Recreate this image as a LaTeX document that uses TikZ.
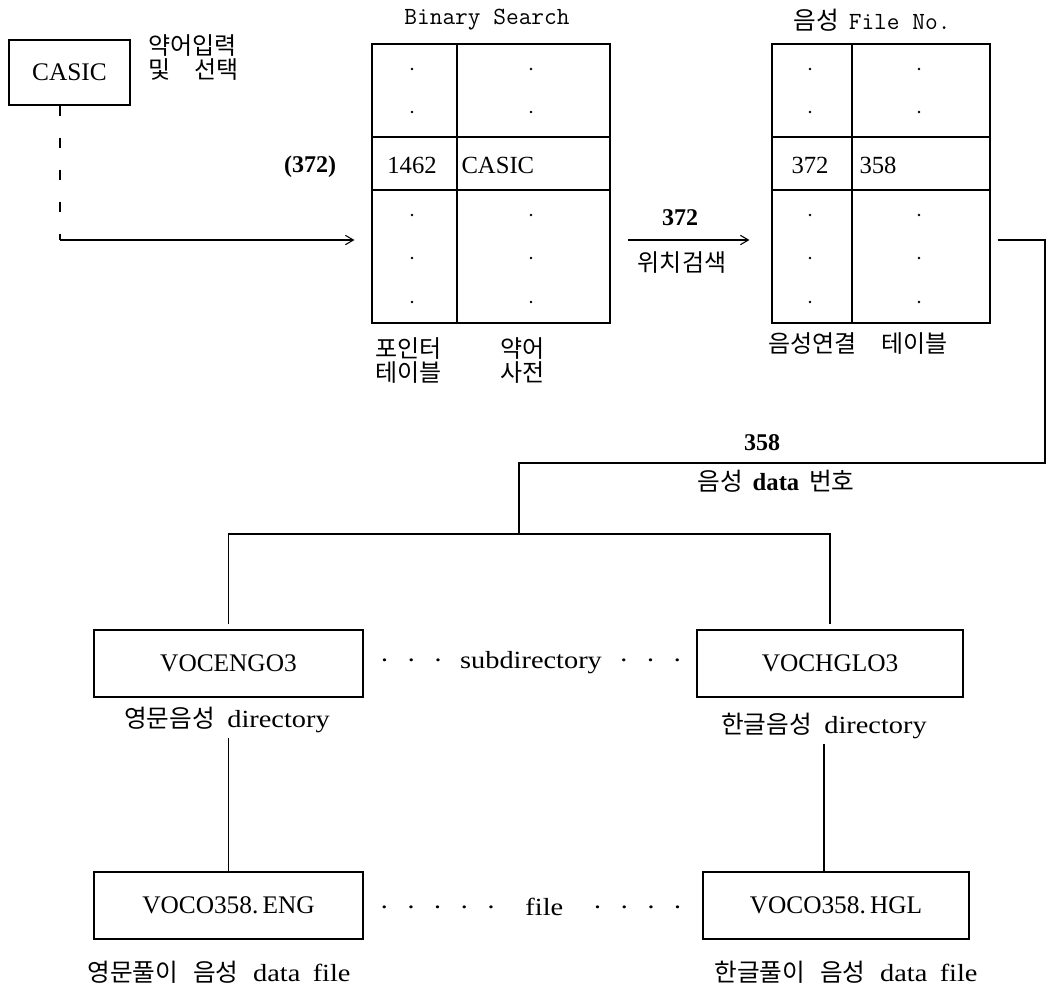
\documentclass[tikz,border=0pt]{standalone}
\usepackage{fontspec}
\setmainfont{Liberation Serif}
\newfontfamily\kor{Noto Sans CJK KR}
\newfontfamily\wide{Liberation Serif}[FakeStretch=1.15]
\usetikzlibrary{arrows.meta,positioning}

\begin{document}
\begin{tikzpicture}[x=0.75pt,y=-0.75pt,line width=0.8pt,
  box/.style={draw,inner sep=0pt,font=\fontsize{19}{22}\selectfont},
  tab/.style={draw,inner sep=0pt,minimum height=209.25pt},
  lbl/.style={inner sep=0pt,font=\wide\fontsize{18.5}{22}\selectfont,align=center},
  kor/.style={inner sep=0pt,font=\kor\fontsize{18}{18}\selectfont,align=center},
  num/.style={inner sep=0pt,font=\fontsize{18}{22}\selectfont\bfseries},
  conn/.style={-{Straight Barb[length=6pt,width=7pt]}}]

  \useasboundingbox (0,0) rectangle (1048,986);

  % input word
  \node[box,minimum width=90.75pt,minimum height=48.75pt] (casic) at (69.5,72.5) {CASIC};
  \node[kor,anchor=west,align=left] (inp) at (148,58) {약어입력\\및\quad 선택};

  % pointer table / dictionary
  \node[tab,minimum width=178.5pt] (bs) at (491,183.5) {};
  \draw (457,44) -- (457,323);
  \draw (372,137) -- (610,137);
  \draw (372,190) -- (610,190);
  \node[lbl,font=\ttfamily\fontsize{18.5}{20}\selectfont] (bstitle) at (487,20) {Binary Search};
  \node[lbl,font=\fontsize{18.5}{22}\selectfont] (ptrval) at (412,165) {1462};
  \node[lbl,font=\fontsize{18.5}{22}\selectfont,anchor=west] (abbrval) at (461,165) {CASIC};
  \node[kor,anchor=north west,align=left] (ptrlbl) at (375,337) {포인터\\테이블};
  \node[kor,anchor=north west,align=left] (dictlbl) at (500,337) {약어\\사전};

  % voice link table
  \node[tab,minimum width=163.5pt] (fn) at (881,183.5) {};
  \draw (852,44) -- (852,323);
  \draw (772,137) -- (990,137);
  \draw (772,190) -- (990,190);
  \node[lbl] (fntitle) at (872,20) {{\kor 음성}\hspace{0.4em}{\ttfamily File No.}};
  \node[lbl,font=\fontsize{18.5}{22}\selectfont] (posval) at (810,165) {372};
  \node[lbl,font=\fontsize{18.5}{22}\selectfont,anchor=west] (fileval) at (859,165) {358};
  \node[kor] (linklbl) at (858,344) {음성연결\quad 테이블};

  \foreach \y in {69,112,215,258,302} {
    \fill (412,\y) circle (1.1pt);
    \fill (531,\y) circle (1.1pt);
    \fill (810,\y) circle (1.1pt);
    \fill (919,\y) circle (1.1pt);
  }

  % lookup path
  \coordinate (turn) at (60,240);
  \draw[dash pattern=on 8pt off 16pt] (casic.south -| turn) -- (turn);
  \draw[conn,shorten >=12.75pt] (turn) -- (turn -| bs.west);
  \node[num] (ptrnum) at (310,167) {(372)};

  \draw[conn,shorten <=12.75pt,shorten >=16.5pt] (bs.east |- turn) -- (fn.west |- turn);
  \node[num] (posnum) at (680,218) {372};
  \node[kor] (search) at (682,263) {위치검색};

  % directories
  \node[box,minimum width=201.75pt,minimum height=50.25pt] (eng) at (228.5,663.5) {VOCENGO3};
  \node[box,minimum width=199.5pt,minimum height=50.25pt] (hgl) at (830,663.5) {VOCHGLO3};
  \node[lbl] (subdir) at (531,663) {·\hspace{0.7em}·\hspace{0.7em}·\hspace{0.7em}subdirectory\hspace{0.7em}·\hspace{0.7em}·\hspace{0.7em}·};
  \node[lbl] (engdir) at (227,720) {{\kor 영문음성}\hspace{0.5em}directory};
  \node[lbl] (hgldir) at (824,726) {{\kor 한글음성}\hspace{0.5em}directory};

  % voice data number
  \coordinate (drop) at (1045,463);
  \coordinate (split) at (519,534);
  \draw[shorten <=5.25pt] (fn.east |- turn) -| (drop) -| (split);
  \node[num] (datanum) at (762,443) {358};
  \node[lbl] (datalbl) at (776,481) {{\kor 음성}\hspace{0.4em}{\normalfont\bfseries data}\hspace{0.4em}{\kor 번호}};
  \draw[shorten <=3.75pt,shorten >=3.75pt] (eng.north) |- (split) -| (hgl.north);

  % data files
  \node[box,minimum width=201.75pt,minimum height=50.25pt] (engf) at (228.5,905.5) {VOCO358.\,ENG};
  \node[box,minimum width=199.5pt,minimum height=50.25pt] (hglf) at (836,905.5) {VOCO358.\,HGL};
  \node[lbl] (files) at (531,907) {·\hspace{0.7em}·\hspace{0.7em}·\hspace{0.7em}·\hspace{0.7em}·\hspace{1.2em}file\hspace{1.2em}·\hspace{0.7em}·\hspace{0.7em}·\hspace{0.7em}·};
  \node[lbl] (engfl) at (219,972) {{\kor 영문풀이}\hspace{0.6em}{\kor 음성}\hspace{0.6em}data\hspace{0.5em}file};
  \node[lbl] (hglfl) at (846,972) {{\kor 한글풀이}\hspace{0.6em}{\kor 음성}\hspace{0.6em}data\hspace{0.5em}file};

  \draw[shorten <=3.75pt] (engdir.south -| engf.north) -- (engf.north);
  \draw[shorten <=3.75pt] (hgldir.south) -- (hgldir.south |- hglf.north);
\end{tikzpicture}
\end{document}
